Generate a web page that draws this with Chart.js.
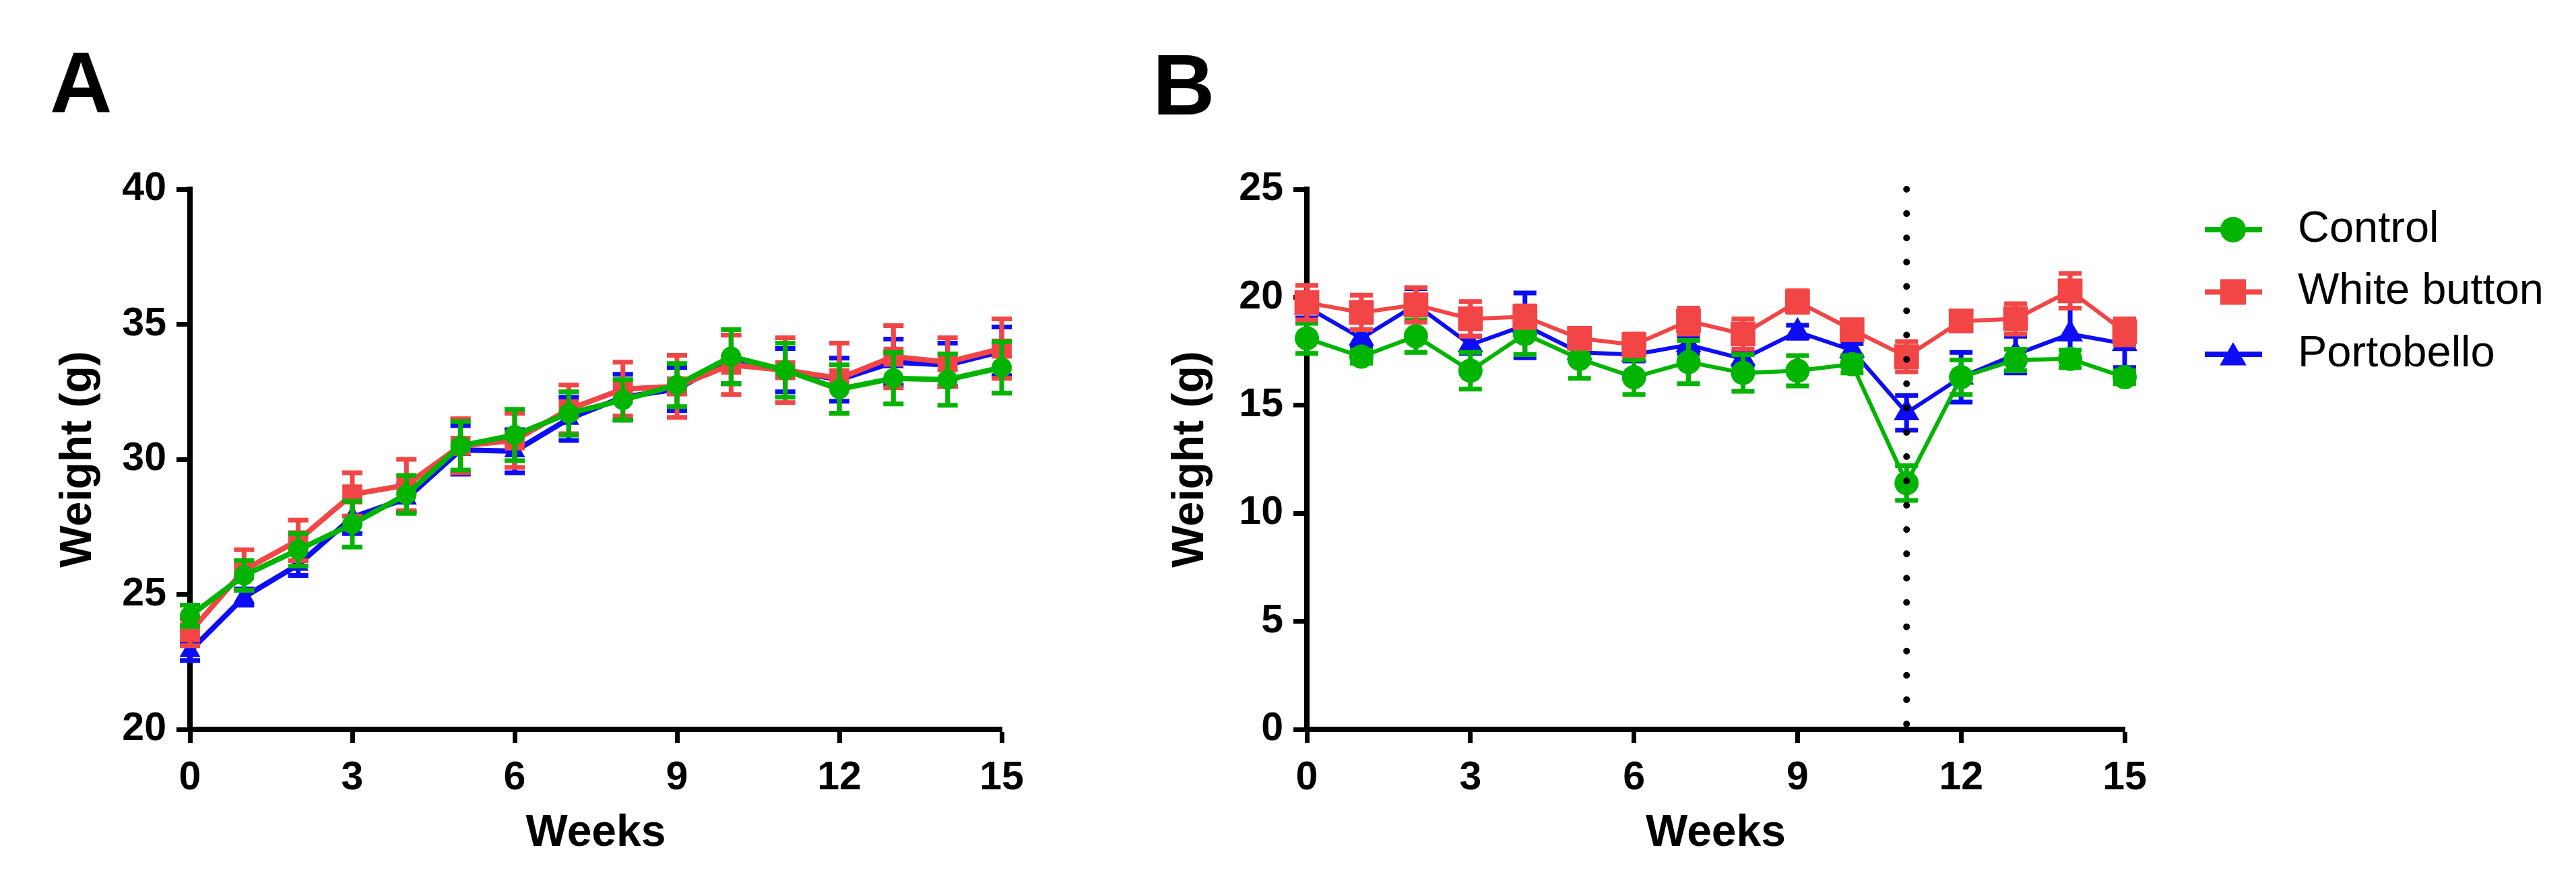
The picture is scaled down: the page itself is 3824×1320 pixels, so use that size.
<!DOCTYPE html>
<html>
<head>
<meta charset="utf-8">
<script src="https://cdn.jsdelivr.net/npm/chart.js@4.4.1/dist/chart.umd.min.js"></script>
<style>
  html, body { margin: 0; padding: 0; background: #fff; }
  #wrap { position: relative; width: 3824px; height: 1320px; }
  canvas { position: absolute; top: 0; }
  #chartA { left: 0; }
  #chartB { left: 1600px; }
</style>
</head>
<body>
<div id="wrap">
  <canvas id="chartA" width="1600" height="1320"></canvas>
  <canvas id="chartB" width="2224" height="1320"></canvas>
</div>
<script>
// semanas (eje X)
const weeks = [0, 1, 2, 3, 4, 5, 6, 7, 8, 9, 10, 11, 12, 13, 14, 15];
const xTicksStep = 3;

// Panel A - peso (g) y error estándar
const controlA     = [24.2, 25.7, 26.65, 27.6, 28.7, 30.5, 30.9, 31.7, 32.2, 32.75, 33.8, 33.3, 32.6, 33.0, 32.95, 33.4];
const controlA_sem = [0.4, 0.55, 0.6, 0.85, 0.7, 0.9, 0.95, 0.8, 0.75, 0.8, 1.0, 1.0, 0.9, 0.95, 0.95, 0.95];
const whiteA       = [23.6, 25.9, 27.0, 28.7, 29.05, 30.5, 30.7, 31.85, 32.6, 32.7, 33.5, 33.3, 33.0, 33.8, 33.6, 34.1];
const whiteA_sem   = [0.5, 0.75, 0.75, 0.8, 0.95, 1.0, 1.0, 0.9, 1.0, 1.15, 1.1, 1.2, 1.3, 1.15, 0.9, 1.1];
const portoA       = [22.9, 24.9, 26.1, 27.85, 28.55, 30.35, 30.3, 31.5, 32.3, 32.6, 33.7, 33.3, 32.95, 33.6, 33.5, 34.0];
const portoA_sem   = [0.35, 0.3, 0.4, 0.6, 0.5, 0.9, 0.8, 0.8, 0.85, 0.8, 0.9, 0.8, 0.8, 0.85, 0.8, 0.9];

// Panel B
const controlB     = [18.1, 17.25, 18.2, 16.6, 18.3, 17.15, 16.3, 17.0, 16.5, 16.6, 16.9, 11.4, 16.3, 17.1, 17.15, 16.3];
const controlB_sem = [0.7, 0.3, 0.75, 0.85, 0.95, 0.9, 0.8, 1.0, 0.85, 0.7, 0.4, 0.8, 0.8, 0.5, 0.4, 0.3];
const whiteB       = [19.75, 19.3, 19.65, 19.0, 19.1, 18.1, 17.8, 18.9, 18.3, 19.8, 18.5, 17.25, 18.9, 19.0, 20.3, 18.4];
const whiteB_sem   = [0.8, 0.8, 0.8, 0.8, 0.5, 0.4, 0.5, 0.6, 0.7, 0.5, 0.4, 0.7, 0.4, 0.7, 0.8, 0.6];
const portoB       = [19.55, 18.1, 19.65, 17.8, 18.7, 17.45, 17.35, 17.8, 17.15, 18.4, 17.55, 14.65, 16.3, 17.35, 18.3, 17.85];
const portoB_sem   = [0.5, 0.4, 0.75, 0.4, 1.5, 0.3, 0.3, 0.4, 0.3, 0.3, 0.3, 0.8, 1.15, 0.85, 1.2, 1.1];

const dropWeek = 11;   // línea punteada en el panel B

const labels = ['Control', 'White button', 'Portobello'];
const colors = ['#00b400', '#f24646', '#0c0cf5'];
const shapes = ['circle', 'rect', 'triangle'];

const FONT = "'Liberation Sans', Arial, sans-serif";
Chart.defaults.font.family = FONT;
Chart.defaults.color = '#000';

function toPoints(vals) {
    return vals.map((v, i) => ({ x: weeks[i], y: v }));
}

// barras de error (media ± SEM)
const errorBars = {
    id: 'errorBars',
    beforeDatasetDraw(chart, args) {
        const ds = chart.data.datasets[args.index];
        if (!ds.errors) return;
        const ctx = chart.ctx;
        const xs = chart.scales.x, ys = chart.scales.y;
        const cap = ds.capHalf;
        ctx.save();
        ctx.strokeStyle = ds.borderColor;
        ctx.lineWidth = ds.errorWidth;
        ds.data.forEach((p, i) => {
            const e = ds.errors[i];
            const px = xs.getPixelForValue(p.x);
            const top = ys.getPixelForValue(p.y + e);
            const bot = ys.getPixelForValue(p.y - e);
            ctx.beginPath();
            ctx.moveTo(px, top); ctx.lineTo(px, bot);
            ctx.moveTo(px - cap, top); ctx.lineTo(px + cap, top);
            ctx.moveTo(px - cap, bot); ctx.lineTo(px + cap, bot);
            ctx.stroke();
        });
        ctx.restore();
    }
};

// letra del panel (A / B)
const panelLabel = {
    id: 'panelLabel',
    afterDraw(chart, args, opts) {
        const ctx = chart.ctx;
        ctx.save();
        ctx.font = 'bold 128px ' + FONT;
        ctx.fillStyle = '#000';
        ctx.textBaseline = 'alphabetic';
        ctx.fillText(opts.text, opts.x, opts.y);
        ctx.restore();
    }
};

// línea vertical punteada, con puntos en ambos extremos
const dottedLine = {
    id: 'dottedLine',
    afterDatasetsDraw(chart, args, opts) {
        if (opts.value === undefined) return;
        const ctx = chart.ctx;
        const x = chart.scales.x.getPixelForValue(opts.value);
        const area = chart.chartArea;
        const y0 = area.bottom - 8, y1 = area.top;
        const len = y0 - y1;
        const gap = len / Math.round(len / 36.7);
        ctx.save();
        ctx.strokeStyle = '#000';
        ctx.lineWidth = 10;
        ctx.lineCap = 'round';
        ctx.setLineDash([0, gap]);
        ctx.beginPath();
        ctx.moveTo(x, y0);
        ctx.lineTo(x, y1 - 1);
        ctx.stroke();
        ctx.restore();
    }
};

const markerRadius = { circle: 19, rect: 27, triangle: 23 };

function makeIcon(color, shape) {
    const c = document.createElement('canvas');
    c.width = 156; c.height = 46;
    const g = c.getContext('2d');
    g.strokeStyle = color;
    g.fillStyle = color;
    g.lineWidth = 8;
    g.beginPath();
    g.moveTo(71, 23); g.lineTo(156, 23);
    g.stroke();
    const yc = shape === 'triangle' ? 28 : 23;
    Chart.helpers.drawPoint(g, { pointStyle: shape, radius: markerRadius[shape], borderWidth: 0 }, 113, yc);
    return c;
}
const legendIcons = colors.map((c, i) => makeIcon(c, shapes[i]));

function buildDatasets(series, sems, orders, opt) {
    return series.map((vals, i) => ({
        label: labels[i],
        data: toPoints(vals),
        errors: sems[i],
        borderColor: colors[i],
        backgroundColor: colors[i],
        pointBackgroundColor: colors[i],
        pointBorderWidth: 0,
        pointStyle: shapes[i],
        pointRadius: opt.radius[shapes[i]],
        borderWidth: opt.lineWidth,
        errorWidth: opt.errorWidth,
        capHalf: opt.capHalf,
        order: orders[i],
        clip: false,
        tension: 0
    }));
}

function axisX(height) {
    return {
        type: 'linear', min: 0, max: 15,
        ticks: { stepSize: xTicksStep, font: { size: 59, weight: 'bold' }, color: '#000', padding: 17 },
        grid: { display: true, drawOnChartArea: false, drawTicks: true, tickLength: 20, tickWidth: 7, color: '#000', tickColor: '#000' },
        border: { display: true, color: '#000', width: 8 },
        title: { display: true, text: 'Weeks', font: { size: 66, weight: 'bold' }, color: '#000', padding: { top: 0, bottom: 43 } },
        afterFit(s) { s.height = height; s.paddingLeft = 0; s.paddingRight = 0; }
    };
}

function axisY(min, max, width, titlePad) {
    return {
        type: 'linear', min: min, max: max,
        ticks: { stepSize: 5, font: { size: 59, weight: 'bold' }, color: '#000', padding: 15 },
        grid: { display: true, drawOnChartArea: false, drawTicks: true, tickLength: 20, tickWidth: 7, color: '#000', tickColor: '#000' },
        border: { display: true, color: '#000', width: 8 },
        title: { display: true, text: 'Weight (g)', font: { size: 66, weight: 'bold' }, color: '#000', padding: { top: titlePad, bottom: 0 } },
        afterFit(s) { s.width = width; s.paddingTop = 0; s.paddingBottom = 0; }
    };
}

// Panel A
new Chart(document.getElementById('chartA'), {
    type: 'line',
    data: {
        datasets: buildDatasets([controlA, whiteA, portoA], [controlA_sem, whiteA_sem, portoA_sem], [0, 1, 2],
            { radius: { circle: 15, rect: 21, triangle: 18 }, lineWidth: 8, errorWidth: 7, capHalf: 15 })
    },
    options: {
        responsive: false,
        animation: false,
        devicePixelRatio: 1,
        layout: { padding: { top: 281, right: 113, bottom: 0, left: 0 } },
        scales: { x: axisX(237), y: axisY(20, 40, 282, 77) },
        plugins: {
            legend: { display: false },
            tooltip: { enabled: false },
            panelLabel: { text: 'A', x: 74, y: 167 }
        }
    },
    plugins: [errorBars, panelLabel]
});

// Panel B
new Chart(document.getElementById('chartB'), {
    type: 'line',
    data: {
        datasets: buildDatasets([controlB, whiteB, portoB], [controlB_sem, whiteB_sem, portoB_sem], [1, 0, 2],
            { radius: { circle: 18, rect: 26, triangle: 22 }, lineWidth: 6, errorWidth: 7, capHalf: 17 })
    },
    options: {
        responsive: false,
        animation: false,
        devicePixelRatio: 1,
        layout: { padding: { top: 281, right: 42, bottom: 0, left: 0 } },
        scales: { x: axisX(237), y: axisY(0, 25, 340, 128) },
        plugins: {
            legend: {
                display: true,
                position: 'right',
                align: 'start',
                maxWidth: 628,
                labels: {
                    usePointStyle: true,
                    pointStyleWidth: 197,
                    padding: 27.5,
                    font: { size: 65, weight: 'normal' },
                    color: '#000',
                    generateLabels(chart) {
                        return chart.data.datasets.map((ds, i) => ({
                            text: ds.label,
                            pointStyle: legendIcons[i],
                            fillStyle: ds.backgroundColor,
                            strokeStyle: ds.borderColor,
                            fontColor: '#000',
                            lineWidth: 0,
                            hidden: false,
                            datasetIndex: i
                        }));
                    }
                }
            },
            tooltip: { enabled: false },
            panelLabel: { text: 'B', x: 111, y: 170 },
            dottedLine: { value: dropWeek }
        }
    },
    plugins: [errorBars, panelLabel, dottedLine]
});
</script>
</body>
</html>
